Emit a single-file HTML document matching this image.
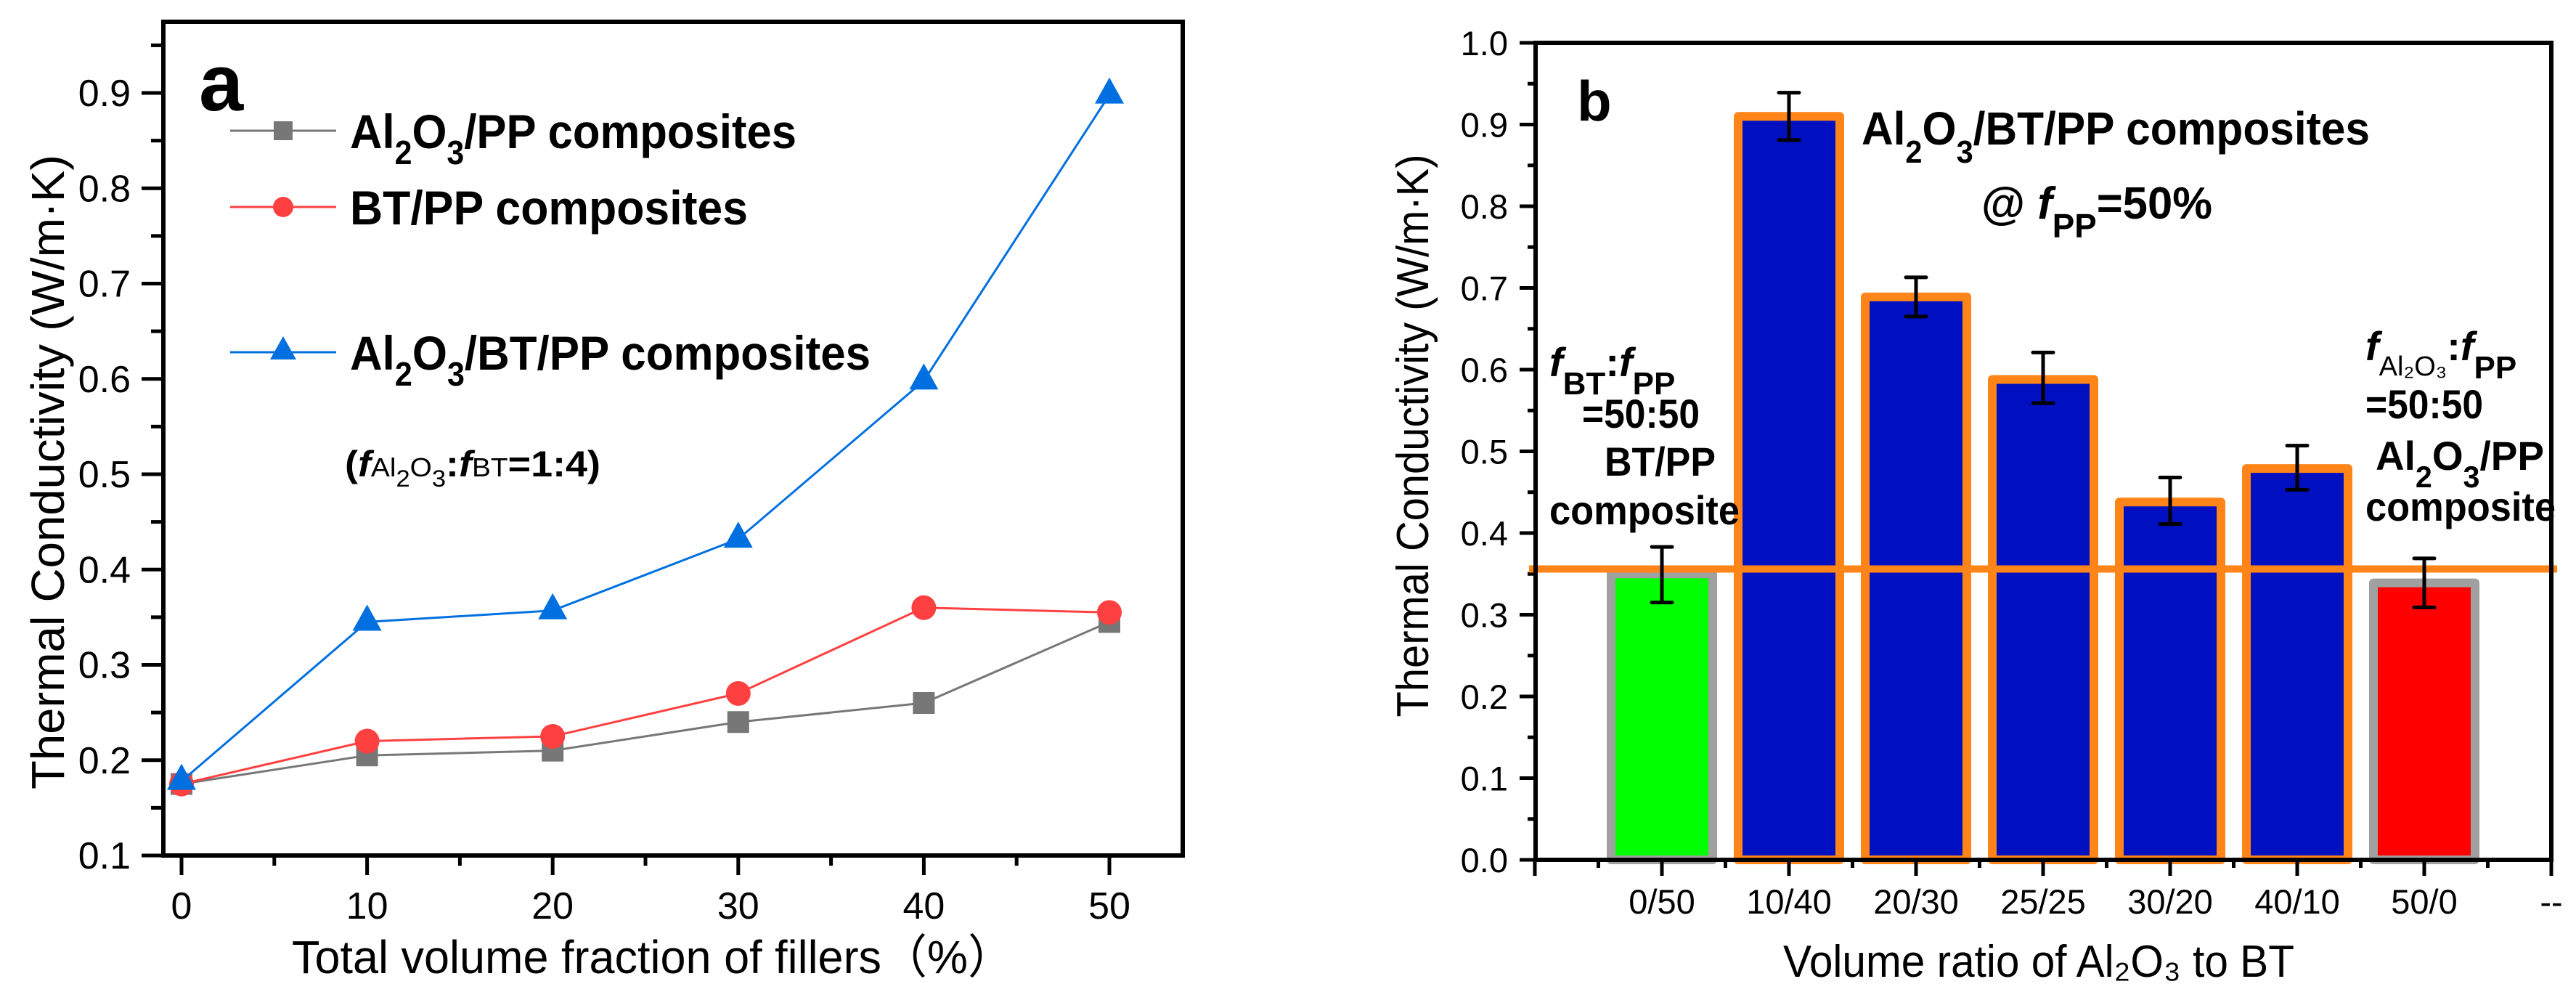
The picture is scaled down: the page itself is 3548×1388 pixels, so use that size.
<!DOCTYPE html>
<html><head><meta charset="utf-8"><style>
html,body{margin:0;padding:0;background:#fff;}
svg{display:block;font-family:"Liberation Sans","Noto Sans CJK SC",sans-serif;}
</style></head><body>
<svg id="fig" width="3548" height="1388" viewBox="0 0 3548 1388" xmlns="http://www.w3.org/2000/svg">
<g id="pa"></g>
<g id="pb"></g>
</svg>
<script>
// ---- Panel a data ----
const aX = [0, 10, 20, 30, 40, 50];
const aAl2O3PP = [0.175, 0.205, 0.21, 0.24, 0.26, 0.345];
const aBTPP = [0.175, 0.22, 0.225, 0.27, 0.36, 0.355];
const aTernary = [0.178, 0.345, 0.357, 0.432, 0.598, 0.898];
const aXTicks = [0, 10, 20, 30, 40, 50];
const aYTicks = ["0.1","0.2","0.3","0.4","0.5","0.6","0.7","0.8","0.9"];
// ---- Panel b data ----
const bCats = ["0/50","10/40","20/30","25/25","30/20","40/10","50/0","--"];
const bValues = [0.35, 0.91, 0.689, 0.588, 0.438, 0.479, 0.339];
const bErrHigh = [0.383, 0.939, 0.713, 0.621, 0.468, 0.507, 0.369];
const bErrLow = [0.315, 0.881, 0.665, 0.559, 0.411, 0.453, 0.309];
const bRef = [0.356];
const bYTicks = ["0.0","0.1","0.2","0.3","0.4","0.5","0.6","0.7","0.8","0.9","1.0"];

const NS = "http://www.w3.org/2000/svg";
function mk(parent, tag, attrs, txt){
  const e = document.createElementNS(NS, tag);
  for (const k in attrs) e.setAttribute(k, attrs[k]);
  if (txt !== undefined) e.textContent = txt;
  parent.appendChild(e);
  return e;
}
const pa = document.getElementById('pa');
const pb = document.getElementById('pb');

// ===== Panel a =====
const axL=225, axR=1629, axT=30, axB=1178;
const ax = v => 250 + (v-0)*(1528-250)/50;
const ay = v => 1178 - (v-0.1)*1312.5;

let el;
el = mk(pa,'rect',{x:axL,y:axT,width:axR-axL,height:axB-axT,fill:'none',stroke:'#000','stroke-width':6});


for (let i=0;i<aYTicks.length;i++){
  const v = parseFloat(aYTicks[i]);
  el = mk(pa,'line',{x1:195,x2:axL,y1:ay(v),y2:ay(v),stroke:'#000','stroke-width':5});
  
  
  el = mk(pa,'text',{x:180,y:ay(v)+18,'text-anchor':'end','font-size':52},aYTicks[i]);
  
  
  const m = v+0.05;
  if (m < 0.98){
    el = mk(pa,'line',{x1:208,x2:axL,y1:ay(m),y2:ay(m),stroke:'#000','stroke-width':5});
    
    
  }
}
for (let i=0;i<aXTicks.length;i++){
  const v=aXTicks[i];
  el = mk(pa,'line',{x1:ax(v),x2:ax(v),y1:axB,y2:1205,stroke:'#000','stroke-width':5});
  
  
  el = mk(pa,'text',{x:ax(v),y:1265,'text-anchor':'middle','font-size':52},String(v));
  
  
  if (v<50){
    el = mk(pa,'line',{x1:ax(v+5),x2:ax(v+5),y1:axB,y2:1192,stroke:'#000','stroke-width':5});
    
    
  }
}
el = mk(pa,'text',{x:899,y:1340,'text-anchor':'middle','font-size':64,textLength:994,lengthAdjust:'spacingAndGlyphs'},'Total volume fraction of fillers（%）');


el = mk(pa,'text',{x:0,y:0,'text-anchor':'middle','font-size':64,transform:'translate(88,650) rotate(-90)',textLength:874,lengthAdjust:'spacingAndGlyphs'},'Thermal Conductivity (W/m·K)');



function series(vals,color,shape,name){
  const pts = aX.map((x,i)=>ax(x)+','+ay(vals[i])).join(' ');
  let e = mk(pa,'polyline',{points:pts,fill:'none',stroke:color,'stroke-width':3});
  
  
  aX.forEach((x,i)=>{
    const cx=ax(x), cy=ay(vals[i]);
    let m;
    if(shape==='sq') m = mk(pa,'rect',{x:cx-15,y:cy-15,width:30,height:30,fill:color});
    else if(shape==='ci') m = mk(pa,'circle',{cx:cx,cy:cy,r:17,fill:color});
    else m = mk(pa,'polygon',{points:`${cx},${cy-24} ${cx-20},${cy+12} ${cx+20},${cy+12}`,fill:color});
    
    
  });
}
series(aAl2O3PP,'#777777','sq','al2o3-pp');
series(aBTPP,'#ff4040','ci','bt-pp');
series(aTernary,'#0070e0','tr','al2o3-bt-pp');

el = mk(pa,'text',{x:274,y:152,'font-size':110,'font-weight':'bold'},'a');


const SUB = s => '<tspan baseline-shift="-22" font-size="46">'+s+'</tspan>';
const leg = [[180,'#777777','sq','Al'+SUB('2')+'O'+SUB('3')+'/PP composites',615],[285,'#ff4040','ci','BT/PP composites',548],[485,'#0070e0','tr','Al'+SUB('2')+'O'+SUB('3')+'/BT/PP composites',717]];
leg.forEach((L,i)=>{
  const g = mk(pa,'g',{});
  
  
  mk(g,'line',{x1:317,x2:463,y1:L[0],y2:L[0],stroke:L[1],'stroke-width':3});
  const cx=390, cy=L[0];
  if(L[2]==='sq') mk(g,'rect',{x:cx-13,y:cy-13,width:26,height:26,fill:L[1]});
  else if(L[2]==='ci') mk(g,'circle',{cx:cx,cy:cy,r:14,fill:L[1]});
  else mk(g,'polygon',{points:`${cx},${cy-22} ${cx-18},${cy+10} ${cx+18},${cy+10}`,fill:L[1]});
  const t = mk(g,'text',{x:482,y:cy+24,'font-size':66,'font-weight':'bold',textLength:L[4],lengthAdjust:'spacingAndGlyphs'});
  t.innerHTML = L[3];
});
el = mk(pa,'text',{x:475,y:656,'font-size':50,'font-weight':'bold',textLength:352,lengthAdjust:'spacingAndGlyphs'});


el.innerHTML = '(<tspan font-style="italic">f</tspan><tspan font-size="36" font-weight="normal">Al</tspan><tspan font-size="32" font-weight="normal" baseline-shift="-14">2</tspan><tspan font-size="36" font-weight="normal">O</tspan><tspan font-size="32" font-weight="normal" baseline-shift="-14">3</tspan>:<tspan font-style="italic">f</tspan><tspan font-size="36" font-weight="normal">BT</tspan>=1:4)';

// ===== Panel b =====
const bL=2115, bR=3514, bT=59, bB=1184;
const bx = i => 2289 + i*175;
const by = v => bB - v*1125;

for (let i=0;i<bYTicks.length;i++){
  const v = parseFloat(bYTicks[i]);
  el = mk(pb,'line',{x1:2093,x2:bL,y1:by(v),y2:by(v),stroke:'#000','stroke-width':5});
  
  
  el = mk(pb,'text',{x:2077,y:by(v)+17,'text-anchor':'end','font-size':47},bYTicks[i]);
  
  
  if (v<1){
    el = mk(pb,'line',{x1:2104,x2:bL,y1:by(v+0.05),y2:by(v+0.05),stroke:'#000','stroke-width':5});
    
    
  }
}
bValues.forEach((v,i)=>{
  const blue = i>0 && i<6;
  const fill = i===0 ? '#00ff00' : (i===6 ? '#ff0000' : '#0010c0');
  const stroke = blue ? '#ff8518' : '#a0a0a0';
  const e = mk(pb,'rect',{x:bx(i)-70,y:by(v),width:140,height:by(0)-by(v),fill:fill,stroke:stroke,'stroke-width':12,'stroke-linejoin':'round'});
  
  
});
el = mk(pb,'line',{x1:2106,x2:3522,y1:by(bRef[0]),y2:by(bRef[0]),stroke:'#ff8518','stroke-width':10});


bValues.forEach((v,i)=>{
  const g = mk(pb,'g',{stroke:'#000','stroke-width':5});
  
  
  const x=bx(i);
  mk(g,'line',{x1:x,x2:x,y1:by(bErrHigh[i]),y2:by(bErrLow[i])});
  mk(g,'line',{x1:x-14,x2:x+14,y1:by(bErrHigh[i]),y2:by(bErrHigh[i]),'stroke-linecap':'round'});
  mk(g,'line',{x1:x-14,x2:x+14,y1:by(bErrLow[i]),y2:by(bErrLow[i]),'stroke-linecap':'round'});
});
el = mk(pb,'rect',{x:bL,y:bT,width:bR-bL,height:bB-bT,fill:'none',stroke:'#000','stroke-width':6});


for (let i=-1;i<bCats.length;i++){
  el = mk(pb,'line',{x1:bx(i),x2:bx(i),y1:bB,y2:1206,stroke:'#000','stroke-width':5});
  
  
  if (i<7){
    el = mk(pb,'line',{x1:bx(i)+87.5,x2:bx(i)+87.5,y1:bB,y2:1195,stroke:'#000','stroke-width':5});
    
    
  }
  if (i>=0){
    el = mk(pb,'text',{x:bx(i),y:1258,'text-anchor':'middle','font-size':47},bCats[i]);
    
    
  }
}
el = mk(pb,'text',{x:2808,y:1345,'text-anchor':'middle','font-size':62,textLength:704,lengthAdjust:'spacingAndGlyphs'},'Volume ratio of Al₂O₃ to BT');


el = mk(pb,'text',{x:0,y:0,'text-anchor':'middle','font-size':62,transform:'translate(1967,600) rotate(-90)',textLength:775,lengthAdjust:'spacingAndGlyphs'},'Thermal Conductivity (W/m·K)');


el = mk(pb,'text',{x:2172,y:166,'font-size':78,'font-weight':'bold'},'b');



function btext(x,y,html,len,name,fs){
  const e = mk(pb,'text',{x:x,y:y,'font-size':fs||60,'font-weight':'bold'});
  if(len){e.setAttribute('textLength',len);e.setAttribute('lengthAdjust','spacingAndGlyphs');}
  e.innerHTML = html;
  
  
}
btext(2564,199,'Al<tspan baseline-shift="sub" font-size="44">2</tspan>O<tspan baseline-shift="sub" font-size="44">3</tspan>/BT/PP composites',700,'composite-title-b',64);
btext(2729,301,'@ <tspan font-style="italic">f</tspan><tspan baseline-shift="sub" font-size="46">PP</tspan>=50%',318,'fpp-annotation-b',62);
btext(2134,518,'<tspan font-style="italic">f</tspan><tspan baseline-shift="sub" font-size="44">BT</tspan>:<tspan font-style="italic">f</tspan><tspan baseline-shift="sub" font-size="44">PP</tspan>',null,'bt-ratio-label',56);
btext(2179,589,'=50:50',162,'bt-ratio-value',56);
btext(2210,655,'BT/PP',153,'bt-pp-label',56);
btext(2134,722,'composite',262,'bt-composite-label',56);
btext(3258,496,'<tspan font-style="italic">f</tspan><tspan baseline-shift="sub" font-size="38" font-weight="normal">Al₂O₃</tspan>:<tspan font-style="italic">f</tspan><tspan baseline-shift="sub" font-size="44">PP</tspan>',null,'al-ratio-label',56);
btext(3258,576,'=50:50',162,'al-ratio-value',56);
btext(3272,647,'Al<tspan baseline-shift="sub" font-size="42">2</tspan>O<tspan baseline-shift="sub" font-size="42">3</tspan>/PP',232,'al-pp-label',56);
btext(3258,717,'composite',262,'al-composite-label',56);
</script>
</body></html>
